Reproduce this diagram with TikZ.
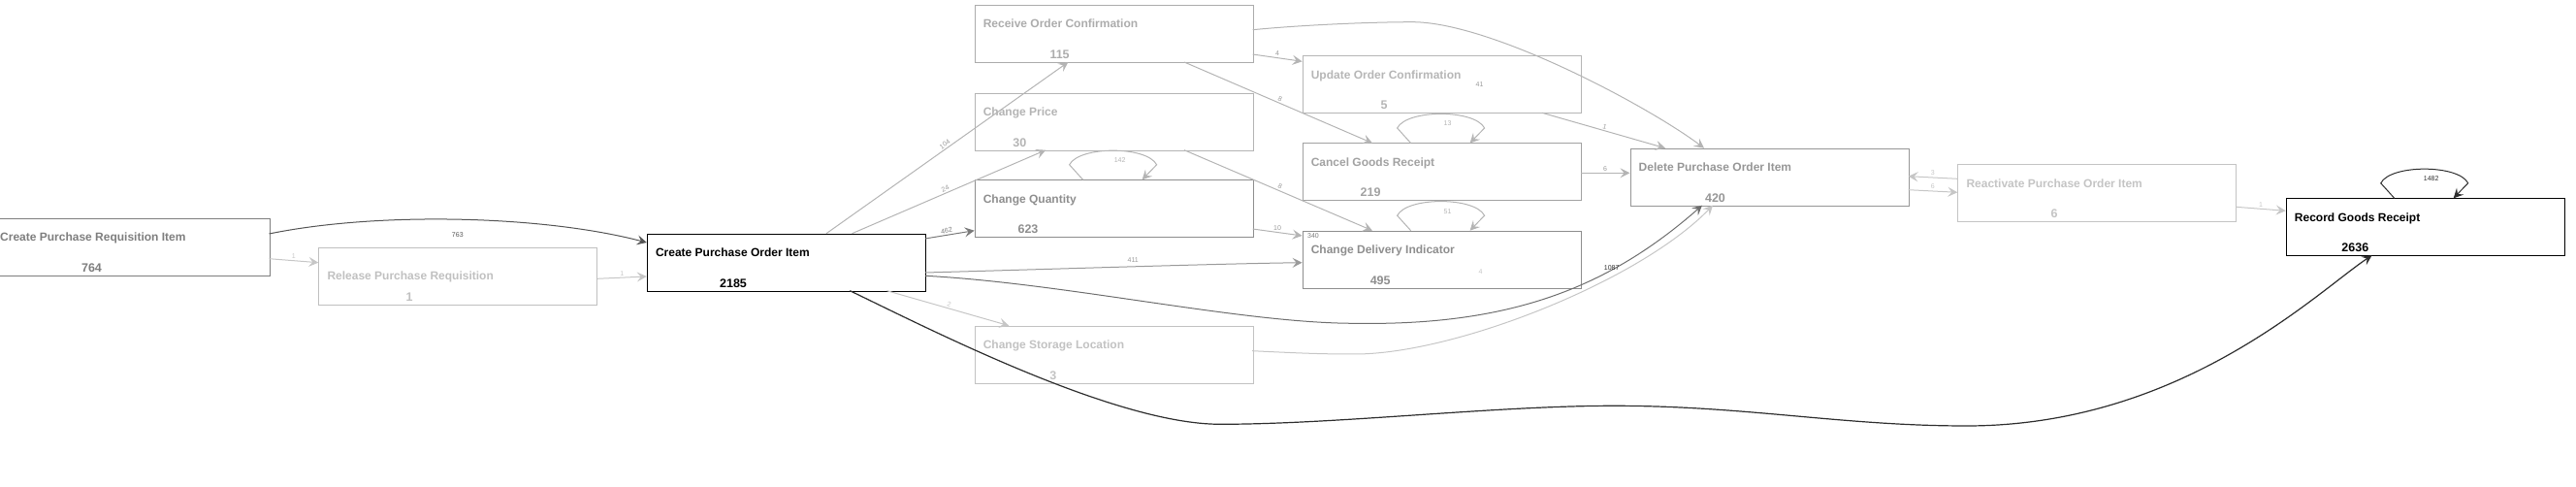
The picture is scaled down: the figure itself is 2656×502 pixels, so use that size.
\documentclass[tikz,border=0pt]{standalone}
\usepackage{fontspec}
\setmainfont{Liberation Sans}
\usetikzlibrary{arrows.meta, calc}

\definecolor{reqc}{HTML}{7E7E7E}
\definecolor{relc}{HTML}{C0C0C0}
\definecolor{rocc}{HTML}{ACACAC}
\definecolor{chpc}{HTML}{B4B4B4}
\definecolor{chqc}{HTML}{8E8E8E}
\definecolor{cslc}{HTML}{C2C2C2}
\definecolor{uocc}{HTML}{B6B6B6}
\definecolor{cgrc}{HTML}{A2A2A2}
\definecolor{cdic}{HTML}{8E8E8E}
\definecolor{dpoc}{HTML}{969696}
\definecolor{rpoc}{HTML}{C4C4C4}
\definecolor{edark}{HTML}{555555}
\definecolor{edgry}{HTML}{6E6E6E}
\definecolor{emid}{HTML}{7A7A7A}
\definecolor{egray}{HTML}{9A9A9A}
\definecolor{elite}{HTML}{B4B4B4}
\definecolor{epale}{HTML}{C6C6C6}
\definecolor{eblk}{HTML}{2E2E2E}

\begin{document}
\begin{tikzpicture}[x=1pt, y=-1pt,
  box/.style={draw, line width=1pt, minimum width=287pt, minimum height=59pt, inner sep=0pt, anchor=north west},
  ttl/.style={font=\fontsize{12}{14}\selectfont\bfseries, inner sep=0pt, anchor=base west},
  num/.style={font=\fontsize{12.5}{14}\selectfont\bfseries, inner sep=0pt, anchor=base},
  elbl/.style={font=\fontsize{7}{8}\selectfont, inner sep=0.5pt, text=egray},
  flow/.style={line width=1pt, -{Stealth[length=10pt, width=10pt, inset=4pt]}}]
\useasboundingbox (0,0) rectangle (2656,502);

% activities
\foreach \nm/\px/\py/\lbl/\cnt/\nx/\ty/\col in {
  req/-9/225/Create Purchase Requisition Item/764/103.5/24/reqc,
  rel/328.3/255.3/Release Purchase Requisition/1/93.7/33.5/relc,
  cpo/666.8/240.7/Create Purchase Order Item/2185/89.2/24/black,
  roc/1004.6/5/Receive Order Confirmation/115/88/24/rocc,
  chp/1004.6/95.7/Change Price/30/46.8/24/chpc,
  chq/1004.6/185.3/Change Quantity/623/55.4/24/chqc,
  csl/1004.6/335.7/Change Storage Location/3/81.2/23.5/cslc,
  uoc/1342.6/57.3/Update Order Confirmation/5/84.5/24/uocc,
  cgr/1342.6/147.5/Cancel Goods Receipt/219/70.5/24/cgrc,
  cdi/1342.6/237.7/Change Delivery Indicator/495/80.6/23.5/cdic,
  dpo/1680.5/152.7/Delete Purchase Order Item/420/88/24/dpoc,
  rpo/2018.3/169.3/Reactivate Purchase Order Item/6/99.7/24/rpoc,
  rgr/2356.7/204.3/Record Goods Receipt/2636/71.6/24/black}{
  \node[box, draw=\col] (\nm) at (\px,\py) {};
  \node[ttl, text=\col] (\nm-t) at ($(\nm.north west)+(9,\ty)$) {\lbl};
  \node[num, text=\col] (\nm-n) at ($(\nm.north west)+(\nx,55.5)$) {\cnt};
}

% self loops
\foreach \nm/\col/\cnt in {chq/elite/142, cgr/elite/13, cdi/elite/51, rgr/eblk/1482}{
  \draw[flow, draw=\col] ($(\nm.north west)+(112,0)$) -- ($(\nm.north west)+(98,-15.5)$)
    .. controls ($(\nm.north west)+(108,-35)$) and ($(\nm.north west)+(178,-35)$) .. ($(\nm.north west)+(188,-15.5)$)
    -- ($(\nm.north west)+(173,0)$);
  \node[elbl, text=\col] (\nm-l) at ($(\nm.north west)+(150,-20)$) {\cnt};
}

% connectors
\draw[flow, draw=edark] ($(req.north west)+(286.5,16)$) .. controls (390,218) and (560,222) .. ($(cpo.north west)+(0,9.3)$);
\node[elbl, text=edark] (l763) at (471.8,241.7) {763};
\draw[flow, draw=epale] ($(req.north west)+(286.5,41.7)$) -- node[elbl, above=1pt, text=epale] (l1a) {1} ($(rel.north west)+(0,15.4)$);
\draw[flow, draw=epale] ($(rel.north west)+(287.5,32)$) -- node[elbl, above=1pt, text=epale] (l1b) {1} ($(cpo.north west)+(0,44.3)$);
\draw[flow, draw=elite] ($(cpo.north west)+(185.2,0)$) -- node[elbl, sloped, above=1pt] (l104) {104} ($(roc.north west)+(96.8,59)$);
\draw[flow, draw=elite] ($(cpo.north west)+(211.7,0)$) -- node[elbl, sloped, above=1pt, pos=.49] (l24) {24} ($(chp.north west)+(73.6,59)$);
\draw[flow, draw=emid] ($(cpo.north west)+(287,5.3)$) -- node[elbl, sloped, above=1pt, pos=.45, text=emid] (l462) {462} ($(chq.north west)+(0,52.4)$);
\draw[flow, draw=egray] ($(cpo.north west)+(287,40.3)$) .. controls (1100,277) and (1250,272) .. node[elbl, above=3pt, pos=.5] (l411) {411} ($(cdi.north west)+(0,33)$);
\draw[flow, draw=edgry] ($(cpo.north west)+(287,43.6)$) .. controls (1100,292) and (1280,333.3) .. (1397,333.3)
  .. controls (1560,336) and (1660,295) .. ($(dpo.north west)+(74.5,59)$);
\draw[flow, draw=epale] ($(cpo.north west)+(247.7,59)$) -- node[elbl, sloped, above=1pt, text=epale] (l2) {2} ($(csl.north west)+(35.7,0)$);
\draw[flow, draw=eblk, line width=1.2pt] ($(cpo.north west)+(209.5,59)$) .. controls (960,340) and (1150,437.3) .. (1258,437.3)
  .. controls (1380,437.3) and (1540,418.3) .. (1664,418.3)
  .. controls (1800,418.3) and (1900,439) .. (2027.4,439)
  .. controls (2250,439) and (2390,300) .. ($(rgr.north west)+(88.8,59)$);
\draw[flow, draw=elite] ($(roc.north west)+(287,51)$) -- node[elbl, above=1pt] (l4) {4} ($(uoc.north west)+(0,6)$);
\draw[flow, draw=elite] ($(roc.north west)+(216.4,59)$) -- node[elbl, sloped, above=1pt] (l8a) {8} ($(cgr.north west)+(72.4,0)$);
\draw[flow, draw=elite] ($(chp.north west)+(216.4,59)$) -- node[elbl, sloped, above=1pt] (l8b) {8} ($(cdi.north west)+(72.4,0)$);
\draw[flow, draw=elite] ($(chq.north west)+(287,50.7)$) -- node[elbl, above=1pt] (l10) {10} ($(cdi.north west)+(0,5.3)$);
\draw[flow, draw=elite] ($(uoc.north west)+(247.4,59)$) -- node[elbl, sloped, above=1pt] (l1c) {1} ($(dpo.north west)+(36.5,0)$);
\draw[flow, draw=elite] ($(cgr.north west)+(287,30.8)$) -- node[elbl, above=1pt] (l6a) {6} ($(dpo.north west)+(0,25.6)$);
\draw[flow, draw=elite] ($(roc.north west)+(287,25.7)$) .. controls (1340,26) and (1410,22.7) .. (1457.7,22.7)
  .. controls (1540,24) and (1700,110) .. ($(dpo.north west)+(76.5,0)$);
\draw[flow, draw=epale] ($(csl.north west)+(286.4,26)$) .. controls (1340,364) and (1360,365) .. (1397,365)
  .. controls (1500,365) and (1690,290) .. ($(dpo.north west)+(85.5,59)$);
\node[elbl, text=eblk] (l1087) at (1661.7,276) {1087};
\draw[flow, draw=epale] ($(dpo.north west)+(287,43)$) -- node[elbl, above=1pt, text=epale] (l6b) {6} ($(rpo.north west)+(0,29)$);
\draw[flow, draw=epale] ($(rpo.north west)+(0,15)$) -- node[elbl, above=1pt, text=epale] (l3) {3} ($(dpo.north west)+(287,29)$);
\draw[flow, draw=epale] ($(rpo.north west)+(287,44)$) -- node[elbl, above=1pt, text=epale] (l1d) {1} ($(rgr.north west)+(0,13)$);

% stray counts
\node[elbl] (l41) at ($(uoc.north west)+(183,30)$) {41};
\node[elbl, text=emid] (l340) at ($(cdi.north west)+(11.4,5)$) {340};
\node[elbl, text=epale] (l4b) at ($(cdi.north west)+(184,42.3)$) {4};
\end{tikzpicture}
\end{document}
